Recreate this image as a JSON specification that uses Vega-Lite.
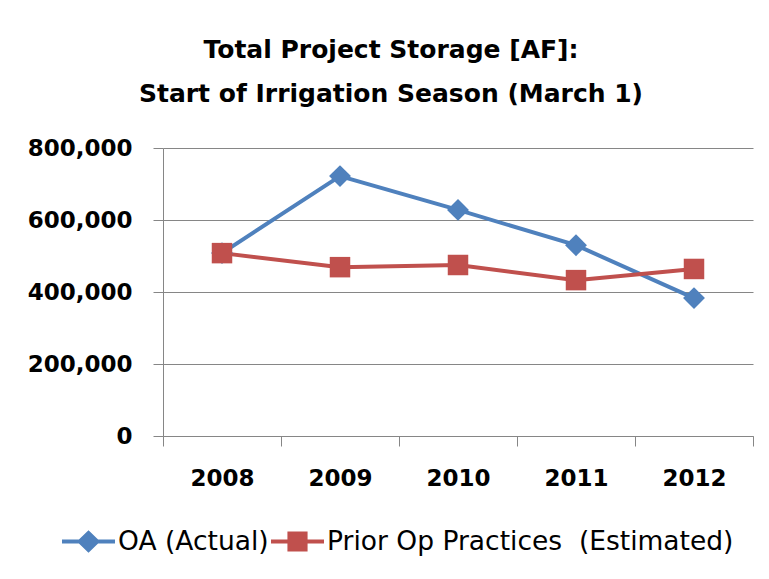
{
  "$schema": "https://vega.github.io/schema/vega-lite/v6.json",
  "autosize": {"type": "none"},
  "width": 590,
  "height": 288,
  "padding": {"left": 163, "top": 148, "right": 16, "bottom": 143},
  "background": "white",
  "title": {
    "text": ["Total Project Storage [AF]:", "Start of Irrigation Season (March 1)"],
    "font": "DejaVu Sans",
    "fontSize": 25,
    "fontWeight": "bold",
    "color": "black",
    "anchor": "middle",
    "lineHeight": 44,
    "offset": 30,
    "dx": -67
  },
  "data": {
    "values": [
      {"year": "2008", "series": "OA (Actual)", "value": 508000},
      {"year": "2009", "series": "OA (Actual)", "value": 722000},
      {"year": "2010", "series": "OA (Actual)", "value": 628000},
      {"year": "2011", "series": "OA (Actual)", "value": 530000},
      {"year": "2012", "series": "OA (Actual)", "value": 383000},
      {"year": "2008", "series": "Prior Op Practices\u00a0 (Estimated)", "value": 508000},
      {"year": "2009", "series": "Prior Op Practices\u00a0 (Estimated)", "value": 469000},
      {"year": "2010", "series": "Prior Op Practices\u00a0 (Estimated)", "value": 475000},
      {"year": "2011", "series": "Prior Op Practices\u00a0 (Estimated)", "value": 433000},
      {"year": "2012", "series": "Prior Op Practices\u00a0 (Estimated)", "value": 464000}
    ]
  },
  "encoding": {
    "x": {
      "field": "year",
      "type": "ordinal",
      "scale": {"paddingInner": 0, "paddingOuter": 0},
      "axis": {
        "title": null,
        "labelAngle": 0,
        "labelFont": "DejaVu Sans",
        "labelFontWeight": "bold",
        "labelFontSize": 23,
        "labelColor": "black",
        "labelPadding": 21,
        "tickBand": "extent",
        "tickSize": 10,
        "tickColor": "#868686",
        "domainColor": "#868686",
        "grid": false
      }
    },
    "y": {
      "field": "value",
      "type": "quantitative",
      "scale": {"domain": [0, 800000]},
      "axis": {
        "title": null,
        "values": [0, 200000, 400000, 600000, 800000],
        "format": ",d",
        "labelFont": "DejaVu Sans",
        "labelFontWeight": "bold",
        "labelFontSize": 23,
        "labelColor": "black",
        "labelPadding": 21,
        "tickSize": 10,
        "tickColor": "#868686",
        "domainColor": "#868686",
        "gridColor": "#868686",
        "gridOpacity": 1
      }
    },
    "color": {
      "field": "series",
      "type": "nominal",
      "scale": {"domain": ["OA (Actual)", "Prior Op Practices\u00a0 (Estimated)"], "range": ["#4F81BD", "#C0504D"]},
      "legend": {
        "title": null,
        "orient": "none",
        "direction": "horizontal",
        "legendX": -101,
        "legendY": 367,
        "labelFont": "DejaVu Sans",
        "labelFontSize": 26.5,
        "labelColor": "black",
        "labelOffset": 3,
        "columnPadding": 2,
        "symbolSize": 2809,
        "symbolStrokeWidth": 0,
        "labelLimit": 600,
        "encode": {
          "symbols": {
            "update": {
              "shape": {"signal": "datum.value == 'OA (Actual)' ? 'M-1,-0.075H1V0.075H-1Z M0,-0.42L0.44,0L0,0.42L-0.44,0Z' : 'M-1,-0.075H1V0.075H-1Z M-0.38,-0.38H0.38V0.38H-0.38Z'"},
              "strokeWidth": {"value": 0},
              "fillOpacity": {"value": 1}
            }
          }
        }
      }
    }
  },
  "layer": [
    {"mark": {"type": "line", "strokeWidth": 4}},
    {
      "transform": [{"filter": "datum.series == 'OA (Actual)'"}],
      "mark": {"type": "point", "filled": true, "opacity": 1, "shape": "diamond", "size": 480}
    },
    {
      "transform": [{"filter": "datum.series != 'OA (Actual)'"}],
      "mark": {"type": "point", "filled": true, "opacity": 1, "shape": "square", "size": 420}
    }
  ],
  "config": {
    "view": {"stroke": null}
  }
}
